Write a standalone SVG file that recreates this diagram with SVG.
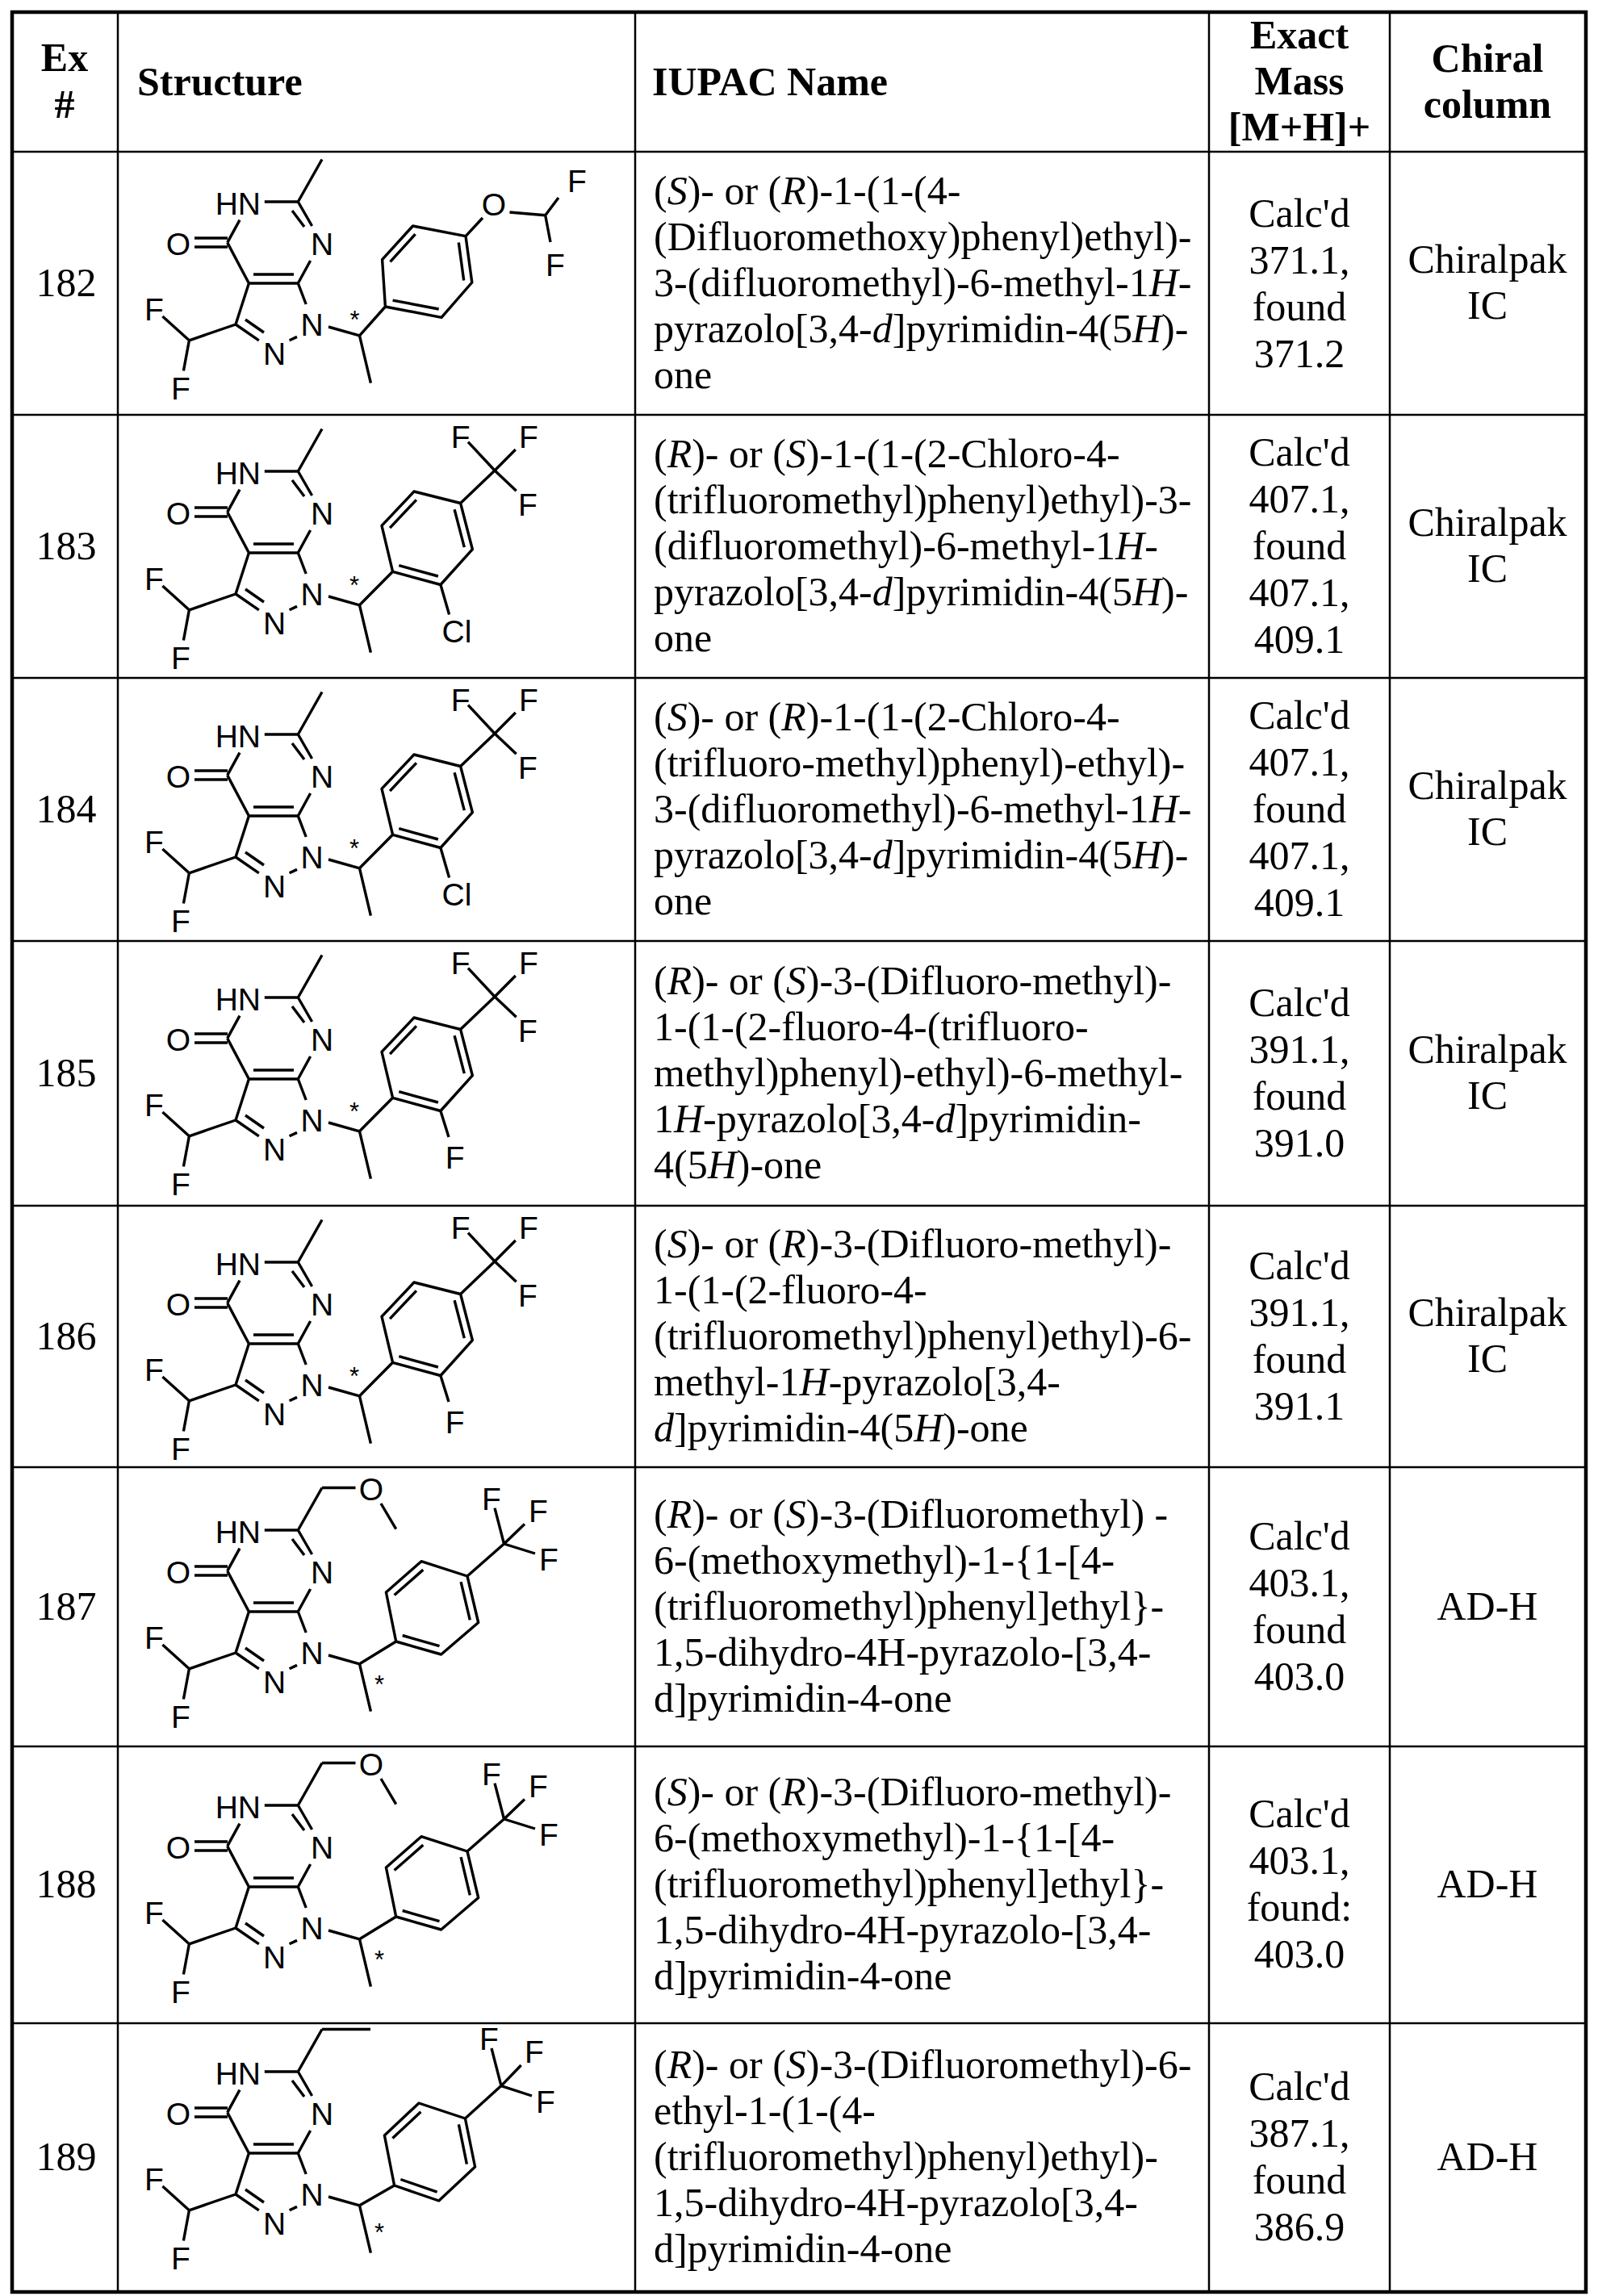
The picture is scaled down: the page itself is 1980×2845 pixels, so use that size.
<svg xmlns="http://www.w3.org/2000/svg" xmlns:xlink="http://www.w3.org/1999/xlink" width="1980" height="2845" viewBox="0 0 1980 2845">
<style>
.t{font-family:"Liberation Serif","Times New Roman",serif;font-size:50px;fill:#000}
.h{font-weight:bold}
.m{text-anchor:middle}
.a{font-family:"Liberation Sans",Arial,sans-serif;font-size:39px;fill:#000;text-anchor:middle}
.s{font-family:"Liberation Sans",Arial,sans-serif;font-size:31px;fill:#000;text-anchor:middle}
.b{stroke:#000;stroke-width:3.4;fill:none;stroke-linecap:butt;stroke-linejoin:round}
.g{stroke:#000;stroke-width:2.5}
.G{stroke:#000;stroke-width:4.5}
</style>
<defs>
<g id="core">
<path class="b" d="M369.3,70L399,17.5M327.8,70H369.3M369.3,70L386.6,100M362,81L377,101M384.6,143L369.3,171M297,92.6L281.7,120.6M241,115H282M241,126H282M281.7,120.6L308.4,171M308.4,171H369.3M314,160H364M369.3,171L379.2,197M358.6,241.8L368,237.4M292,222L320.8,241.8M304,216L327,232M308.4,171L292,222M292,222L234.4,241.8M234.4,241.8L201.4,212M234.4,241.8L227.4,279.5M407,225L445.5,235.8M445.5,235.8L459.4,294.7"/>
<text class="a" x="323" y="86" style="text-anchor:end">HN</text>
<text class="a" x="220.8" y="136">O</text>
<text class="a" x="399" y="136">N</text>
<text class="a" x="386.6" y="236">N</text>
<text class="a" x="340" y="272">N</text>
<text class="a" x="191" y="217">F</text>
<text class="a" x="224" y="315">F</text>
</g>
<g id="aryl">
<path class="b" d="M445.5,235.8L486.6,194.3M486.6,194.3L545.9,210.5L585.4,166.7L570.6,109.5L513,95L473,137.4Z M494.3,186.7L542.9,200M575.3,164.1L563.1,117.2M515.9,105.3L483.1,140.1M570.6,109.5L613,69M613,69L580,33.7M613,69L638.8,43M613,69L639.7,94.3"/>
<text class="a" x="570.6" y="41">F</text>
<text class="a" x="655" y="41">F</text>
<text class="a" x="654" y="125">F</text>
<text class="s" x="439" y="222">*</text>
</g>
<g id="sub187">
<path class="b" d="M399,1843.5H440.5M472,1863L490.7,1894.6M445.5,2061.8L490.7,2034M490.7,2034L546.6,2050L592.7,2010.5L579,1953L522,1934.7L478.4,1973Z M498.7,2026.5L544.5,2039.7M582.3,2007.3L571.1,1960.1M524.3,1945.1L488.6,1976.5M579,1953L624.5,1913M624.5,1913L613,1868.6M624.5,1913L650,1888.6M624.5,1913L663,1925"/>
<text class="a" x="460" y="1859">O</text>
<text class="a" x="609" y="1871">F</text>
<text class="a" x="667" y="1886">F</text>
<text class="a" x="680" y="1946">F</text>
<text class="s" x="470" y="2098">*</text>
</g>
</defs>

<g id="grid">
<rect x="15" y="15" width="1950" height="2825" fill="none" class="G"/>
<path class="g" d="M146,15V2840M787,15V2840M1498,15V2840M1722,15V2840M15,188H1965M15,514H1965M15,840H1965M15,1166H1965M15,1494H1965M15,1818H1965M15,2164H1965M15,2507H1965"/>
</g>

<g id="header">
<text class="t h m" x="80" y="88">Ex</text>
<text class="t h m" x="80" y="146">#</text>
<text class="t h" x="170" y="118">Structure</text>
<text class="t h" x="808" y="118">IUPAC Name</text>
<text class="t h m" x="1610" y="60">Exact</text>
<text class="t h m" x="1610" y="117">Mass</text>
<text class="t h m" x="1610" y="174">[M+H]+</text>
<text class="t h m" x="1843" y="89">Chiral</text>
<text class="t h m" x="1843" y="146">column</text>
</g>

<g id="row182">
<text class="t m" x="82" y="367">182</text>
<use xlink:href="#core" transform="translate(0,180)"/>
<path class="b" d="M445.5,415.8L477.4,380M477.4,380L473.6,321.7L511.5,280L577,292.7L584.8,350L547,393.3Z M483.5,324.3L514.6,290.1M568.3,300.5L574.7,347.5M543.7,383L486.6,372.1M577,292.7L598,270M631.5,263L675.7,266.7M675.7,266.7L692,245M675.7,266.7L682,300"/>
<text class="a" x="612" y="267">O</text>
<text class="a" x="715" y="238">F</text>
<text class="a" x="688" y="342">F</text>
<text class="s" x="439.5" y="407">*</text>
<text class="t" x="810"><tspan x="810" y="253">(<tspan font-style="italic">S</tspan>)- or (<tspan font-style="italic">R</tspan>)-1-(1-(4-</tspan><tspan x="810" y="310">(Difluoromethoxy)phenyl)ethyl)-</tspan><tspan x="810" y="367">3-(difluoromethyl)-6-methyl-1<tspan font-style="italic">H</tspan>-</tspan><tspan x="810" y="424">pyrazolo[3,4-<tspan font-style="italic">d</tspan>]pyrimidin-4(5<tspan font-style="italic">H</tspan>)-</tspan><tspan x="810" y="481">one</tspan></text>
<text class="t m"><tspan x="1610" y="281">Calc'd</tspan><tspan x="1610" y="339">371.1,</tspan><tspan x="1610" y="397">found</tspan><tspan x="1610" y="455">371.2</tspan></text>
<text class="t m"><tspan x="1843" y="338">Chiralpak</tspan><tspan x="1843" y="395">IC</tspan></text>
</g>

<g id="row183">
<text class="t m" x="82" y="693">183</text>
<use xlink:href="#core" transform="translate(0,514)"/>
<use xlink:href="#aryl" transform="translate(0,514)"/>
<path class="b" d="M545.9,724.5L556.6,761.5"/>
<text class="a" x="566" y="796">Cl</text>
<text class="t" x="810"><tspan x="810" y="579">(<tspan font-style="italic">R</tspan>)- or (<tspan font-style="italic">S</tspan>)-1-(1-(2-Chloro-4-</tspan><tspan x="810" y="636">(trifluoromethyl)phenyl)ethyl)-3-</tspan><tspan x="810" y="693">(difluoromethyl)-6-methyl-1<tspan font-style="italic">H</tspan>-</tspan><tspan x="810" y="750">pyrazolo[3,4-<tspan font-style="italic">d</tspan>]pyrimidin-4(5<tspan font-style="italic">H</tspan>)-</tspan><tspan x="810" y="807">one</tspan></text>
<text class="t m"><tspan x="1610" y="577">Calc'd</tspan><tspan x="1610" y="635">407.1,</tspan><tspan x="1610" y="693">found</tspan><tspan x="1610" y="751">407.1,</tspan><tspan x="1610" y="809">409.1</tspan></text>
<text class="t m"><tspan x="1843" y="664">Chiralpak</tspan><tspan x="1843" y="721">IC</tspan></text>
</g>

<g id="row184">
<text class="t m" x="82" y="1019">184</text>
<use xlink:href="#core" transform="translate(0,840)"/>
<use xlink:href="#aryl" transform="translate(0,840)"/>
<path class="b" d="M545.9,1050.5L556.6,1087.5"/>
<text class="a" x="566" y="1122">Cl</text>
<text class="t" x="810"><tspan x="810" y="905">(<tspan font-style="italic">S</tspan>)- or (<tspan font-style="italic">R</tspan>)-1-(1-(2-Chloro-4-</tspan><tspan x="810" y="962">(trifluoro-methyl)phenyl)-ethyl)-</tspan><tspan x="810" y="1019">3-(difluoromethyl)-6-methyl-1<tspan font-style="italic">H</tspan>-</tspan><tspan x="810" y="1076">pyrazolo[3,4-<tspan font-style="italic">d</tspan>]pyrimidin-4(5<tspan font-style="italic">H</tspan>)-</tspan><tspan x="810" y="1133">one</tspan></text>
<text class="t m"><tspan x="1610" y="903">Calc'd</tspan><tspan x="1610" y="961">407.1,</tspan><tspan x="1610" y="1019">found</tspan><tspan x="1610" y="1077">407.1,</tspan><tspan x="1610" y="1135">409.1</tspan></text>
<text class="t m"><tspan x="1843" y="990">Chiralpak</tspan><tspan x="1843" y="1047">IC</tspan></text>
</g>

<g id="row185">
<text class="t m" x="82" y="1346">185</text>
<use xlink:href="#core" transform="translate(0,1166)"/>
<use xlink:href="#aryl" transform="translate(0,1166)"/>
<path class="b" d="M545.9,1376.5L556,1409"/>
<text class="a" x="563.6" y="1448">F</text>
<text class="t" x="810"><tspan x="810" y="1232">(<tspan font-style="italic">R</tspan>)- or (<tspan font-style="italic">S</tspan>)-3-(Difluoro-methyl)-</tspan><tspan x="810" y="1289">1-(1-(2-fluoro-4-(trifluoro-</tspan><tspan x="810" y="1346">methyl)phenyl)-ethyl)-6-methyl-</tspan><tspan x="810" y="1403">1<tspan font-style="italic">H</tspan>-pyrazolo[3,4-<tspan font-style="italic">d</tspan>]pyrimidin-</tspan><tspan x="810" y="1460">4(5<tspan font-style="italic">H</tspan>)-one</tspan></text>
<text class="t m"><tspan x="1610" y="1259">Calc'd</tspan><tspan x="1610" y="1317">391.1,</tspan><tspan x="1610" y="1375">found</tspan><tspan x="1610" y="1433">391.0</tspan></text>
<text class="t m"><tspan x="1843" y="1317">Chiralpak</tspan><tspan x="1843" y="1374">IC</tspan></text>
</g>

<g id="row186">
<text class="t m" x="82" y="1672">186</text>
<use xlink:href="#core" transform="translate(0,1494)"/>
<use xlink:href="#aryl" transform="translate(0,1494)"/>
<path class="b" d="M545.9,1704.5L556,1737"/>
<text class="a" x="563.6" y="1776">F</text>
<text class="t" x="810"><tspan x="810" y="1558">(<tspan font-style="italic">S</tspan>)- or (<tspan font-style="italic">R</tspan>)-3-(Difluoro-methyl)-</tspan><tspan x="810" y="1615">1-(1-(2-fluoro-4-</tspan><tspan x="810" y="1672">(trifluoromethyl)phenyl)ethyl)-6-</tspan><tspan x="810" y="1729">methyl-1<tspan font-style="italic">H</tspan>-pyrazolo[3,4-</tspan><tspan x="810" y="1786"><tspan font-style="italic">d</tspan>]pyrimidin-4(5<tspan font-style="italic">H</tspan>)-one</tspan></text>
<text class="t m"><tspan x="1610" y="1585">Calc'd</tspan><tspan x="1610" y="1643">391.1,</tspan><tspan x="1610" y="1701">found</tspan><tspan x="1610" y="1759">391.1</tspan></text>
<text class="t m"><tspan x="1843" y="1643">Chiralpak</tspan><tspan x="1843" y="1700">IC</tspan></text>
</g>

<g id="row187">
<text class="t m" x="82" y="2007">187</text>
<use xlink:href="#core" transform="translate(0,1826)"/>
<use xlink:href="#sub187"/>
<text class="t" x="810"><tspan x="810" y="1893">(<tspan font-style="italic">R</tspan>)- or (<tspan font-style="italic">S</tspan>)-3-(Difluoromethyl) -</tspan><tspan x="810" y="1950">6-(methoxymethyl)-1-{1-[4-</tspan><tspan x="810" y="2007">(trifluoromethyl)phenyl]ethyl}-</tspan><tspan x="810" y="2064">1,5-dihydro-4H-pyrazolo-[3,4-</tspan><tspan x="810" y="2121">d]pyrimidin-4-one</tspan></text>
<text class="t m"><tspan x="1610" y="1920">Calc'd</tspan><tspan x="1610" y="1978">403.1,</tspan><tspan x="1610" y="2036">found</tspan><tspan x="1610" y="2094">403.0</tspan></text>
<text class="t m"><tspan x="1843" y="2007">AD-H</tspan></text>
</g>

<g id="row188">
<text class="t m" x="82" y="2351">188</text>
<use xlink:href="#core" transform="translate(0,2167)"/>
<use xlink:href="#sub187" transform="translate(0,341)"/>
<text class="t" x="810"><tspan x="810" y="2237">(<tspan font-style="italic">S</tspan>)- or (<tspan font-style="italic">R</tspan>)-3-(Difluoro-methyl)-</tspan><tspan x="810" y="2294">6-(methoxymethyl)-1-{1-[4-</tspan><tspan x="810" y="2351">(trifluoromethyl)phenyl]ethyl}-</tspan><tspan x="810" y="2408">1,5-dihydro-4H-pyrazolo-[3,4-</tspan><tspan x="810" y="2465">d]pyrimidin-4-one</tspan></text>
<text class="t m"><tspan x="1610" y="2264">Calc'd</tspan><tspan x="1610" y="2322">403.1,</tspan><tspan x="1610" y="2380">found:</tspan><tspan x="1610" y="2438">403.0</tspan></text>
<text class="t m"><tspan x="1843" y="2351">AD-H</tspan></text>
</g>

<g id="row189">
<text class="t m" x="82" y="2689">189</text>
<use xlink:href="#core" transform="translate(0,2497)"/>
<path class="b" d="M399,2514.5H459M445.5,2732.8L488.6,2708M488.6,2708L543.7,2727L588.6,2685L576.4,2625L519,2606L476.4,2646Z M496.4,2700.5L541.6,2716.1M578.4,2681.6L568.4,2632.4M521.4,2616.8L486.4,2649.6M576.4,2625L621,2584.6M621,2584.6L609,2538M621,2584.6L645.7,2559M621,2584.6L659,2597"/>
<text class="a" x="606" y="2540">F</text>
<text class="a" x="662" y="2556">F</text>
<text class="a" x="676" y="2618">F</text>
<text class="s" x="470" y="2777">*</text>
<text class="t" x="810"><tspan x="810" y="2575">(<tspan font-style="italic">R</tspan>)- or (<tspan font-style="italic">S</tspan>)-3-(Difluoromethyl)-6-</tspan><tspan x="810" y="2632">ethyl-1-(1-(4-</tspan><tspan x="810" y="2689">(trifluoromethyl)phenyl)ethyl)-</tspan><tspan x="810" y="2746">1,5-dihydro-4H-pyrazolo[3,4-</tspan><tspan x="810" y="2803">d]pyrimidin-4-one</tspan></text>
<text class="t m"><tspan x="1610" y="2602">Calc'd</tspan><tspan x="1610" y="2660">387.1,</tspan><tspan x="1610" y="2718">found</tspan><tspan x="1610" y="2776">386.9</tspan></text>
<text class="t m"><tspan x="1843" y="2689">AD-H</tspan></text>
</g>
</svg>
